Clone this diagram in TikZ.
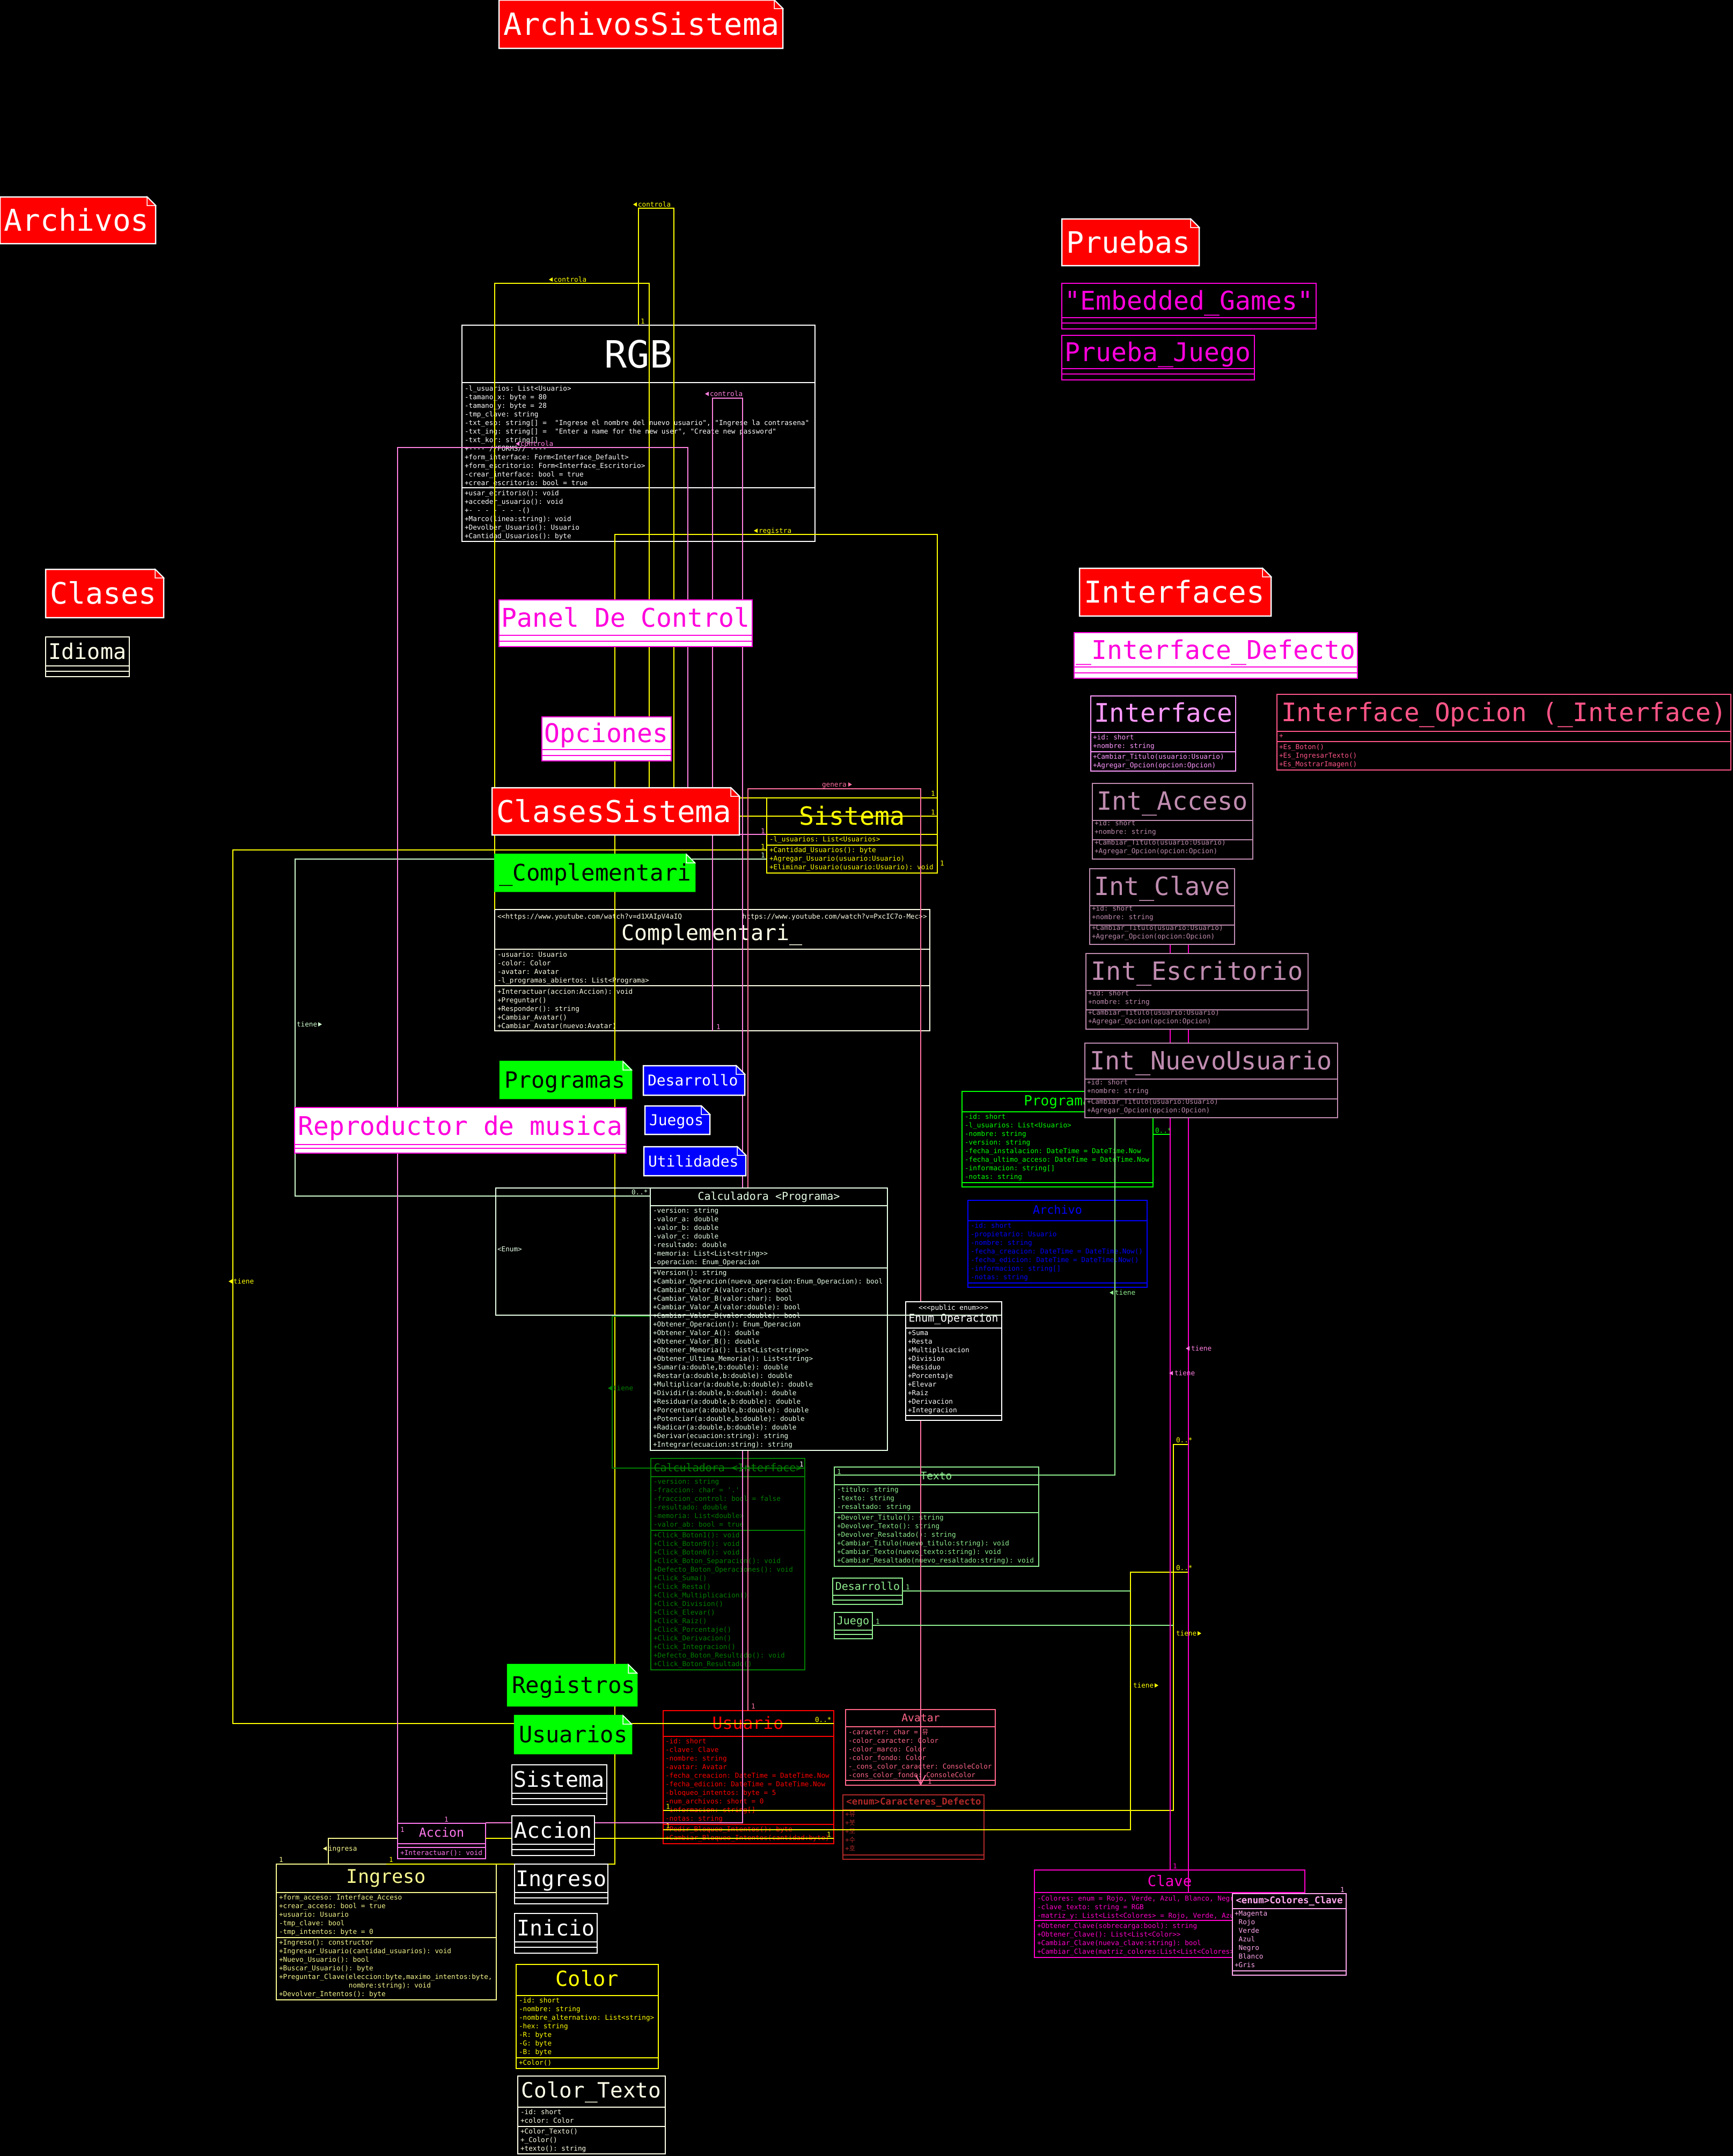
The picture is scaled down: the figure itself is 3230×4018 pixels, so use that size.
\documentclass[tikz,border=0pt]{standalone}
\usepackage{fontspec}
\setmonofont{DejaVu Sans Mono}
\newfontfamily\krfont{Noto Sans CJK KR}
\usetikzlibrary{arrows.meta}
\definecolor{cYel}{HTML}{FFFF00}
\definecolor{cCream}{HTML}{FFFFE8}
\definecolor{cHoney}{HTML}{E8FFE8}
\definecolor{cDkGreen}{HTML}{008000}
\definecolor{cLtGreen}{HTML}{90EE90}
\definecolor{cGreen}{HTML}{00FF00}
\definecolor{cBlue}{HTML}{0000FF}
\definecolor{cViolet}{HTML}{FF99FF}
\definecolor{cRose}{HTML}{FF5588}
\definecolor{cMauve}{HTML}{C08CB0}
\definecolor{cRed}{HTML}{FF0000}
\definecolor{cAvatar}{HTML}{FF6688}
\definecolor{cDkRed}{HTML}{B02828}
\definecolor{cLtYel}{HTML}{F8F890}
\definecolor{cAccion}{HTML}{FF77EE}
\definecolor{cMag}{HTML}{FF00CC}
\definecolor{cLtPink}{HTML}{FFA8EE}
\definecolor{cMagenta}{HTML}{FF00DD}
\definecolor{cConPink}{HTML}{FF80E0}
\definecolor{cGenera}{HTML}{FF70A0}
\definecolor{cConGreen}{HTML}{D0FFD0}
\tikzset{
  boxline/.style={line width=2.5pt},
  conline/.style={line width=2pt},
  txt/.style={anchor=base west, inner sep=0pt, outer sep=0pt},
  ctxt/.style={anchor=base, inner sep=0pt, outer sep=0pt},
}
\newcommand\sm{\ttfamily\fontsize{12.7}{16}\selectfont}
\newcommand\fsz[1]{\ttfamily\fontsize{#1}{#1}\selectfont}
\newcommand\ucls[7]{%
  \node[boxline, draw=#2, fill=black, inner sep=0pt, outer sep=0pt, anchor=north west,
        minimum width={(#5-#3)*1pt}, minimum height={(#6-#4)*1pt}] (#1) at (#3,#4) {};
  \foreach \s in {#7} {\draw[boxline, #2] (#3,\s) -- (#5,\s);}
}
\newcommand\uclsw[7]{%
  \node[boxline, draw=#2, fill=white, inner sep=0pt, outer sep=0pt, anchor=north west,
        minimum width={(#5-#3)*1pt}, minimum height={(#6-#4)*1pt}] (#1) at (#3,#4) {};
  \foreach \s in {#7} {\draw[boxline, #2] (#3,\s) -- (#5,\s);}
}
\newcommand\tl[5]{%
  \foreach \mytext [count=\cnt from 0] in {#5} {\node[txt, text=#4, font=\sm] (#1\cnt) at (#2,{#3+16*\cnt}) {\mytext};}
}
\newcommand\unote[9]{%
  \node[inner sep=0pt, outer sep=0pt, anchor=north west, minimum width={(#6-#4)*1pt}, minimum height={(#7-#5)*1pt}] (#1) at (#4,#5) {};
  \filldraw[fill=#2, draw=#3, boxline] (#4,#5) -- (#6-16,#5) -- (#6,#5+16) -- (#6,#7) -- (#4,#7) -- cycle;
  \filldraw[fill=#2, draw=white, line width=1.5pt] (#6-16,#5) -- (#6-16,#5+16) -- (#6,#5+16) -- cycle;
  \node[txt, font=\fsz{#8}, text=white] (#1T) at (#4+8, {(#5+#7)/2+0.36*#8}) {#9};
}
\newcommand\tril[3]{\fill[#3] (#1,#2-4) -- (#1+7,#2-8) -- (#1+7,#2) -- cycle;}
\newcommand\trir[3]{\fill[#3] (#1+7,#2-4) -- (#1,#2-8) -- (#1,#2) -- cycle;}
\newcommand\lab[5]{\node[txt, text=#4, font=\sm] (#1) at (#2,#3) {#5};}
\begin{document}
\catcode`\_=12
\begin{tikzpicture}[x=1pt,y=-1pt]
\fill[black] (0,0) rectangle (3230,4018);
\useasboundingbox (0,0) rectangle (3230,4018);

% ================= UNDER BOXES =================
\ucls{rgb}{white}{861}{606}{1519}{1009}{713,909}
\node[ctxt, text=white, font=\fsz{70}] (rgbT) at (1190,685) {RGB};
\tl{rgbA}{866}{728}{white}{{-l_usuarios: List<Usuario>},{-tamano_x: byte = 80},{-tamano_y: byte = 28},{-tmp_clave: string},{-txt_esp: string[] =~ "Ingrese el nombre del nuevo usuario", "Ingrese la contrasena"},{-txt_ing: string[] =~ "Enter a name for the new user", "Create new password"},{-txt_kor: string[]},{+---- //FORMS// ----},{+form_interface: Form<Interface_Default>},{+form_escritorio: Form<Interface_Escritorio>},{-crear_interface: bool = true},{+crear_escritorio: bool = true}}
\tl{rgbM}{866}{923}{white}{{+usar_ecritorio(): void},{+acceder_usuario(): void},{+- - - - - - -()},{+Marco(linea:string): void},{+Devolber_Usuario(): Usuario},{+Cantidad_Usuarios(): byte}}

\ucls{sis}{cYel}{1429}{1487}{1747}{1627}{1555,1575}
\node[ctxt, text=cYel, font=\fsz{46.7}] (sisT) at (1588,1537) {Sistema};
\tl{sisA}{1434}{1568}{cYel}{{-l_usuarios: List<Usuarios>}}
\tl{sisM}{1434}{1588}{cYel}{{+Cantidad_Usuarios(): byte},{+Agregar_Usuario(usuario:Usuario)},{+Eliminar_Usuario(usuario:Usuario): void}}

\ucls{comp}{cCream}{922}{1695}{1733}{1921}{1769,1837}
\node[txt, text=cCream, font=\sm] (compS1) at (927,1712) {<<https://www.youtube.com/watch?v=d1XAIpV4aIQ};
\node[anchor=base east, inner sep=0pt, text=cCream, font=\sm] (compS2) at (1728,1712) {https://www.youtube.com/watch?v=PxcIC7o-Mec>>};
\node[ctxt, text=cCream, font=\fsz{40}] (compT) at (1327,1752) {Complementari_};
\tl{compA}{927}{1783}{cCream}{{-usuario: Usuario},{-color: Color},{-avatar: Avatar},{-l_programas_abiertos: List<Programa>}}
\tl{compM}{927}{1852}{cCream}{{+Interactuar(accion:Accion): void},{+Preguntar()},{+Responder(): string},{+Cambiar_Avatar()},{+Cambiar_Avatar(nuevo:Avatar)}}

\ucls{calci}{cDkGreen}{1213}{2718}{1500}{3112}{2752,2852}
\node[ctxt, text=cDkGreen, font=\fsz{20}] (calciT) at (1357,2742) {Calculadora <Interface>};
\tl{calciA}{1218}{2765}{cDkGreen}{{-version: string},{-fraccion: char = '.'},{-fraccion_control: bool = false},{-resultado: double},{-memoria: List<double>},{-valor_ab: bool = true}}
\tl{calciM}{1218}{2865}{cDkGreen}{{+Click_Boton1(): void},{+Click_Boton9(): void},{+Click_Boton0(): void},{+Click_Boton_Separacion(): void},{+Defecto_Boton_Operaciones(): void},{+Click_Suma()},{+Click_Resta()},{+Click_Multiplicacion()},{+Click_Division()},{+Click_Elevar()},{+Click_Raiz()},{+Click_Porcentaje()},{+Click_Derivacion()},{+Click_Integracion()},{+Defecto_Boton_Resultado(): void},{+Click_Boton_Resultado()}}

\ucls{texto}{cLtGreen}{1555}{2734}{1936}{2919}{2767,2819}
\node[ctxt, text=cLtGreen, font=\fsz{19.5}] (textoT) at (1745,2757) {Texto};
\tl{textoA}{1560}{2780}{cLtGreen}{{-titulo: string},{-texto: string},{-resaltado: string}}
\tl{textoM}{1560}{2832}{cLtGreen}{{+Devolver_Titulo(): string},{+Devolver_Texto(): string},{+Devolver_Resaltado(): string},{+Cambiar_Titulo(nuevo_titulo:string): void},{+Cambiar_Texto(nuevo_texto:string): void},{+Cambiar_Resaltado(nuevo_resaltado:string): void}}

\ucls{desc}{cLtGreen}{1552}{2941}{1682}{2990}{2973,2982}
\node[ctxt, text=cLtGreen, font=\fsz{20}] (descT) at (1617,2963) {Desarrollo};
\ucls{juego}{cLtGreen}{1555}{3005}{1626}{3054}{3038,3046}
\node[ctxt, text=cLtGreen, font=\fsz{20}] (juegoT) at (1590,3027) {Juego};

\ucls{prog}{cGreen}{1793}{2034}{2149}{2212}{2072,2204}
\node[ctxt, text=cGreen, font=\fsz{26}] (progT) at (1971,2060) {Programa};
\tl{progA}{1798}{2085}{cGreen}{{-id: short},{-l_usuarios: List<Usuario>},{-nombre: string},{-version: string},{-fecha_instalacion: DateTime = DateTime.Now},{-fecha_ultimo_acceso: DateTime = DateTime.Now},{-informacion: string[]},{-notas: string}}

\ucls{arch}{cBlue}{1804}{2237}{2138}{2399}{2275,2391}
\node[ctxt, text=cBlue, font=\fsz{21.8}] (archT) at (1971,2262) {Archivo};
\tl{archA}{1809}{2288}{cBlue}{{-id: short},{-propietario: Usuario},{-nombre: string},{-fecha_creacion: DateTime = DateTime.Now()},{-fecha_edicion: DateTime = DateTime.Now()},{-informacion: string[]},{-notas: string}}

\ucls{usu}{cRed}{1236}{3188}{1554}{3436}{3236,3400}
\node[ctxt, text=cRed, font=\fsz{31.5}] (usuT) at (1394,3222) {Usuario};
\tl{usuA}{1240}{3249}{cRed}{{-id: short},{-clave: Clave},{-nombre: string},{-avatar: Avatar},{-fecha_creacion: DateTime = DateTime.Now},{-fecha_edicion: DateTime = DateTime.Now},{-bloqueo_intentos: byte = 5},{-num_archivos: short = 0},{-informacion: string[]},{-notas: string}}
\tl{usuM}{1240}{3413}{cRed}{{+Pedir_Bloqueo_Intentos(): byte},{+Cambiar_Bloqueo_Intentos(cantidad:byte)}}

\ucls{ava}{cAvatar}{1576}{3186}{1855}{3327}{3218,3318}
\node[ctxt, text=cAvatar, font=\fsz{19.8}] (avaT) at (1716,3208) {Avatar};
\tl{avaA}{1581}{3232}{cAvatar}{{-caracter: char = {\krfont 뮤}},{-color_caracter: Color},{-color_marco: Color},{-color_fondo: Color},{-_cons_color_caracter: ConsoleColor},{-cons_color_fondo: ConsoleColor}}

\ucls{car}{cDkRed}{1571}{3345}{1834}{3465}{3373,3457}
\node[ctxt, text=cDkRed, font=\fsz{17.4}\bfseries] (carT) at (1703,3363) {<enum>Caracteres_Defecto};
\tl{carA}{1575}{3385}{cDkRed}{{+{\krfont 뮤}},{+{\krfont 봇}},{+{\krfont 모}},{+{\krfont 수}},{+{\krfont 호}}}

\ucls{clave}{cMag}{1928}{3485}{2432}{3648}{3527,3579}
\node[ctxt, text=cMag, font=\fsz{27.4}] (claveT) at (2180,3515) {Clave};
\tl{claveA}{1933}{3542}{cMag}{{-Colores: enum = Rojo, Verde, Azul, Blanco, Negro},{-clave_texto: string = RGB},{-matriz_y: List<List<Colores> = Rojo, Verde, Azul, Blanco}}
\tl{claveM}{1933}{3593}{cMag}{{+Obtener_Clave(sobrecarga:bool): string},{+Obtener_Clave(): List<List<Color>>},{+Cambiar_Clave(nueva_clave:string): bool},{+Cambiar_Clave(matriz_colores:List<List<Colores>>): void}}

\ucls{ing}{cLtYel}{515}{3474}{925}{3727}{3527,3611}
\node[ctxt, text=cLtYel, font=\fsz{35.2}] (ingT) at (720,3509) {Ingreso};
\tl{ingA}{520}{3540}{cLtYel}{{+form_acceso: Interface_Acceso},{+crear_acceso: bool = true},{+usuario: Usuario},{-tmp_clave: bool},{-tmp_intentos: byte = 0}}
\tl{ingM}{520}{3624}{cLtYel}{{+Ingreso(): constructor},{+Ingresar_Usuario(cantidad_usuarios): void},{+Nuevo_Usuario(): bool},{+Buscar_Usuario(): byte},{+Preguntar_Clave(eleccion:byte,maximo_intentos:byte,},{\phantom{+Preguntar_Clave(}nombre:string): void},{+Devolver_Intentos(): byte}}

\ucls{acc}{cAccion}{741}{3398}{905}{3464}{3436,3443}
\node[ctxt, text=cAccion, font=\fsz{23.3}] (accT) at (823,3423) {Accion};
\tl{accM}{746}{3457}{cAccion}{{+Interactuar(): void}}

\ucls{color}{cYel}{962}{3661}{1227}{3855}{3719,3835}
\node[ctxt, text=cYel, font=\fsz{38.8}] (colorT) at (1094,3701) {Color};
\tl{colorA}{967}{3732}{cYel}{{-id: short},{-nombre: string},{-nombre_alternativo: List<string>},{-hex: string},{-R: byte},{-G: byte},{-B: byte}}
\tl{colorM}{967}{3848}{cYel}{{+Color()}}

\ucls{ctex}{cCream}{965}{3869}{1240}{4014}{3927,3963}
\node[ctxt, text=cCream, font=\fsz{39.3}] (ctexT) at (1102,3909) {Color_Texto};
\tl{ctexA}{970}{3940}{cCream}{{-id: short},{+color: Color}}
\tl{ctexM}{970}{3976}{cCream}{{+Color_Texto()},{+_Color()},{+texto(): string}}

% ================= CONNECTORS =================
\draw[conline,cYel] (1190,606) -- (1190,388) -- (1256,388) -- (1256,1487) -- (1747,1487);
\draw[conline,cYel] (922,1695) -- (922,528) -- (1210,528) -- (1210,1521) -- (1747,1521);
\draw[conline,cYel] (720,3474) -- (1146,3474) -- (1146,996) -- (1747,996) -- (1747,1487);
\draw[conline,cYel] (1429,1584) -- (434,1584) -- (434,3212) -- (1554,3212);
\draw[conline,cLtYel] (612,3474) -- (612,3426) -- (741,3426);
\draw[conline,cYel] (905,3426) -- (1554,3426);
\draw[conline,cYel] (1236,3374) -- (2187,3374) -- (2187,2692) -- (2215,2692);
\draw[conline,cYel] (1236,3410) -- (2107,3410) -- (2107,2930) -- (2215,2930);
\lab{n27}{2192}{2688}{cYel}{0..*}
\lab{n28}{2192}{2926}{cYel}{0..*}
\lab{lt5}{2192}{3048}{cYel}{tiene}\trir{2232}{3048}{cYel}
\lab{lt6}{2112}{3145}{cYel}{tiene}\trir{2152}{3145}{cYel}
\tril{1180}{385}{cYel}\lab{lc1}{1189}{385}{cYel}{controla}
\tril{1023}{525}{cYel}\lab{lc2}{1032}{525}{cYel}{controla}
\tril{1405}{993}{cYel}\lab{lr1}{1414}{993}{cYel}{registra}
\tril{426}{2392}{cYel}\lab{lt1}{435}{2392}{cYel}{tiene}
\lab{n1}{1194}{603}{cYel}{1}
\lab{n2}{1735}{1483}{cYel}{1}
\lab{n3}{1735}{1518}{cYel}{1}
\lab{n4}{1418}{1582}{cYel}{1}
\lab{n5}{1752}{1613}{cYel}{1}
\lab{n6}{1519}{3209}{cYel}{0..*}
\lab{n7}{725}{3470}{cYel}{1}
\lab{n8}{520}{3470}{cLtYel}{1}
\lab{n9}{1241}{3371}{cYel}{1}
\lab{n10}{1241}{3407}{cYel}{1}
\lab{n11}{1541}{3423}{cYel}{1}
\tril{602}{3449}{cLtYel}\lab{li1}{612}{3449}{cLtYel}{ingresa}
\draw[conline,cConGreen] (1429,1601) -- (550,1601) -- (550,2229) -- (1212,2229);
\lab{n12}{1418}{1598}{cConGreen}{1}
\lab{n13}{1177}{2226}{cConGreen}{0..*}
\lab{lt2}{553}{1913}{cConGreen}{tiene}\trir{593}{1913}{cConGreen}
\draw[conline,cConPink] (1429,1555) -- (1282,1555) -- (1282,834) -- (741,834) -- (741,3398);
\draw[conline,cConPink] (1328,1921) -- (1328,742) -- (1384,742) -- (1384,3397) -- (905,3397);
\tril{1314}{738}{cConPink}\lab{lc3}{1323}{738}{cConPink}{controla}
\tril{961}{831}{cConPink}\lab{lc4}{970}{831}{cConPink}{controla}
\lab{n14}{1418}{1553}{cConPink}{1}
\lab{n15}{1335}{1918}{cConPink}{1}
\lab{n16}{828}{3395}{cConPink}{1}
\lab{n17}{746}{3414}{cConPink}{1}
\draw[conline,cGenera] (1394,3188) -- (1394,1470) -- (1716,1470) -- (1716,3327);
\draw[conline,cGenera] (1707,3308) -- (1716,3326) -- (1725,3308);
\lab{lg1}{1532}{1466}{cGenera}{genera}\trir{1581}{1466}{cGenera}
\lab{n18}{1400}{3184}{cGenera}{1}
\lab{n19}{1729}{3324}{cGenera}{1}
\draw[conline,cDkGreen] (1212,2453) -- (1141,2453) -- (1141,2736) -- (1500,2736);
\tril{1133}{2591}{cDkGreen}\lab{lt3}{1142}{2591}{cDkGreen}{tiene}
\lab{n20}{1490}{2733}{white}{1}
\draw[conline,cLtGreen] (1555,2749) -- (2078,2749) -- (2078,2083);
\tril{2068}{2413}{cLtGreen}\lab{lt4}{2078}{2413}{cLtGreen}{tiene}
\lab{n21}{1560}{2747}{cLtGreen}{1}
\draw[conline,cLtGreen] (1682,2965) -- (2107,2965);
\draw[conline,cLtGreen] (1626,3029) -- (2187,3029);
\lab{n22}{1688}{2962}{cLtGreen}{1}
\lab{n23}{1632}{3026}{cLtGreen}{1}
\draw[conline,cGreen] (2149,2114) -- (2181,2114);
\lab{n24}{2153}{2111}{cGreen}{0..*}
\draw[conline,cMag] (2181,1760) -- (2181,3485);
\draw[conline,cMag] (2215,1760) -- (2215,3527);
\tril{2210}{2517}{cConPink}\lab{lt7}{2220}{2517}{cConPink}{tiene}
\tril{2179}{2563}{cConPink}\lab{lt8}{2189}{2563}{cConPink}{tiene}
\lab{n25}{2186}{3482}{cMag}{1}
\lab{n26}{2498}{3526}{cLtPink}{1}

% ================= OVER BOXES =================
\ucls{calcp}{cHoney}{1212}{2214}{1654}{2703}{2247,2363}
\node[ctxt, text=cHoney, font=\fsz{20}] (calcpT) at (1433,2236) {Calculadora <Programa>};
\tl{calcpA}{1217}{2260}{cHoney}{{-version: string},{-valor_a: double},{-valor_b: double},{-valor_c: double},{-resultado: double},{-memoria: List<List<string>>},{-operacion: Enum_Operacion}}
\tl{calcpM}{1217}{2376}{cHoney}{{+Version(): string},{+Cambiar_Operacion(nueva_operacion:Enum_Operacion): bool},{+Cambiar_Valor_A(valor:char): bool},{+Cambiar_Valor_B(valor:char): bool},{+Cambiar_Valor_A(valor:double): bool},{+Cambiar_Valor_B(valor:double): bool},{+Obtener_Operacion(): Enum_Operacion},{+Obtener_Valor_A(): double},{+Obtener_Valor_B(): double},{+Obtener_Memoria(): List<List<string>>},{+Obtener_Ultima_Memoria(): List<string>},{+Sumar(a:double,b:double): double},{+Restar(a:double,b:double): double},{+Multiplicar(a:double,b:double): double},{+Dividir(a:double,b:double): double},{+Residuar(a:double,b:double): double},{+Porcentuar(a:double,b:double): double},{+Potenciar(a:double,b:double): double},{+Radicar(a:double,b:double): double},{+Derivar(ecuacion:string): string},{+Integrar(ecuacion:string): string}}
\ucls{enumop}{white}{1688}{2426}{1867}{2647}{2475,2638}
\node[ctxt, text=white, font=\sm] (enumopS) at (1777,2441) {<<<public enum>>>};
\node[ctxt, text=white, font=\fsz{19.8}] (enumopT) at (1777,2463) {Enum_Operacion};
\tl{enumopA}{1692}{2488}{white}{{+Suma},{+Resta},{+Multiplicacion},{+Division},{+Residuo},{+Porcentaje},{+Elevar},{+Raiz},{+Derivacion},{+Integracion}}
\draw[conline,cHoney] (1212,2214) -- (924,2214) -- (924,2451) -- (1867,2451);
\lab{enumL}{927}{2332}{cHoney}{<Enum>}

\ucls{iface}{cViolet}{2033}{1297}{2303}{1437}{1365,1401}
\node[ctxt, text=cViolet, font=\fsz{47.6}] (ifaceT) at (2168,1345) {Interface};
\tl{ifaceA}{2037}{1378}{cViolet}{{+id: short},{+nombre: string}}
\tl{ifaceM}{2037}{1414}{cViolet}{{+Cambiar_Titulo(usuario:Usuario)},{+Agregar_Opcion(opcion:Opcion)}}
\ucls{iopc}{cRose}{2380}{1294}{3226}{1435}{1363,1382}
\node[ctxt, text=cRose, font=\fsz{47.5}] (iopcT) at (2803,1344) {Interface_Opcion (_Interface)};
\tl{iopcA}{2384}{1375}{cRose}{{+}}
\tl{iopcM}{2384}{1396}{cRose}{{+Es_Boton()},{+Es_IngresarTexto()},{+Es_MostrarImagen()}}
\ucls{iacc}{cMauve}{2036}{1460}{2335}{1601}{1529,1565}
\node[ctxt, text=cMauve, font=\fsz{46.8}] (iaccT) at (2185,1509) {Int_Acceso};
\tl{iaccA}{2040}{1538}{cMauve}{{+id: short},{+nombre: string}}
\tl{iaccM}{2040}{1574}{cMauve}{{+Cambiar_Titulo(usuario:Usuario)},{+Agregar_Opcion(opcion:Opcion)}}
\ucls{icla}{cMauve}{2031}{1619}{2301}{1760}{1688,1724}
\node[ctxt, text=cMauve, font=\fsz{46.8}] (iclaT) at (2166,1668) {Int_Clave};
\tl{iclaA}{2035}{1697}{cMauve}{{+id: short},{+nombre: string}}
\tl{iclaM}{2035}{1733}{cMauve}{{+Cambiar_Titulo(usuario:Usuario)},{+Agregar_Opcion(opcion:Opcion)}}
\ucls{iesc}{cMauve}{2024}{1777}{2438}{1918}{1846,1882}
\node[ctxt, text=cMauve, font=\fsz{46.8}] (iescT) at (2231,1826) {Int_Escritorio};
\tl{iescA}{2028}{1855}{cMauve}{{+id: short},{+nombre: string}}
\tl{iescM}{2028}{1891}{cMauve}{{+Cambiar_Titulo(usuario:Usuario)},{+Agregar_Opcion(opcion:Opcion)}}
\ucls{inue}{cMauve}{2022}{1944}{2493}{2083}{2011,2048}
\node[ctxt, text=cMauve, font=\fsz{46.8}] (inueT) at (2257,1993) {Int_NuevoUsuario};
\tl{inueA}{2026}{2021}{cMauve}{{+id: short},{+nombre: string}}
\tl{inueM}{2026}{2057}{cMauve}{{+Cambiar_Titulo(usuario:Usuario)},{+Agregar_Opcion(opcion:Opcion)}}

\ucls{ccl}{cLtPink}{2297}{3529}{2509}{3681}{3557,3673}
\node[ctxt, text=cLtPink, font=\fsz{17.4}\bfseries] (cclT) at (2403,3547) {<enum>Colores_Clave};
\tl{cclA}{2301}{3570}{cLtPink}{{+Magenta},{~Rojo},{~Verde},{~Azul},{~Negro},{~Blanco},{+Gris}}

\uclsw{idef}{cMagenta}{2002}{1179}{2530}{1264}{1243,1254}
\node[ctxt, text=cMagenta, font=\fsz{48}] (idefT) at (2266,1228) {_Interface_Defecto};
\uclsw{panel}{cMagenta}{930}{1118}{1402}{1205}{1184,1195}
\node[ctxt, text=cMagenta, font=\fsz{48}] (panelT) at (1166,1168) {Panel De Control};
\uclsw{opc}{cMagenta}{1010}{1336}{1251}{1418}{1397,1408}
\node[ctxt, text=cMagenta, font=\fsz{48}] (opcT) at (1130,1383) {Opciones};
\uclsw{repro}{cMagenta}{549}{2064}{1167}{2149}{2133,2140}
\node[ctxt, text=cMagenta, font=\fsz{47.8}] (reproT) at (858,2115) {Reproductor de musica};
\ucls{emb}{cMagenta}{1979}{528}{2453}{613}{592,602}
\node[ctxt, text=cMagenta, font=\fsz{48}] (embT) at (2216,577) {"Embedded_Games"};
\ucls{prj}{cMagenta}{1979}{625}{2338}{708}{687,697}
\node[ctxt, text=cMagenta, font=\fsz{48}] (prjT) at (2158,673) {Prueba_Juego};
\ucls{idioma}{cCream}{85}{1187}{241}{1261}{1241,1251}
\node[ctxt, text=cCream, font=\fsz{40}] (idiomaT) at (163,1228) {Idioma};
\ucls{bsis}{white}{954}{3289}{1131}{3363}{3342,3352}
\node[ctxt, text=white, font=\fsz{40}] (bsisT) at (1042,3330) {Sistema};
\ucls{bacc}{white}{954}{3384}{1108}{3458}{3437,3447}
\node[ctxt, text=white, font=\fsz{40}] (baccT) at (1031,3425) {Accion};
\ucls{bing}{white}{959}{3474}{1133}{3548}{3527,3537}
\node[ctxt, text=white, font=\fsz{40}] (bingT) at (1046,3515) {Ingreso};
\ucls{bini}{white}{959}{3566}{1113}{3640}{3619,3629}
\node[ctxt, text=white, font=\fsz{40}] (biniT) at (1036,3607) {Inicio};

\unote{nArchSis}{cRed}{white}{930}{0}{1459}{90}{57}{ArchivosSistema}
\unote{nArch}{cRed}{white}{0}{367}{290}{454}{56}{Archivos}
\unote{nPru}{cRed}{white}{1979}{408}{2235}{495}{55}{Pruebas}
\unote{nCla}{cRed}{white}{85}{1061}{305}{1151}{55}{Clases}
\unote{nInt}{cRed}{white}{2012}{1059}{2369}{1148}{56}{Interfaces}
\unote{nCS}{cRed}{white}{917}{1468}{1378}{1556}{56}{ClasesSistema}
\unote{nComp}{cGreen}{cGreen}{922}{1592}{1295}{1661}{42.5}{\color{black}_Complementari}
\unote{nProg}{cGreen}{cGreen}{932}{1978}{1177}{2047}{41.6}{\color{black}Programas}
\unote{nDes}{cBlue}{white}{1199}{1986}{1388}{2041}{28}{Desarrollo}
\unote{nJue}{cBlue}{white}{1202}{2061}{1323}{2114}{28}{Juegos}
\unote{nUti}{cBlue}{white}{1200}{2137}{1390}{2191}{28}{Utilidades}
\unote{nReg}{cGreen}{cGreen}{946}{3102}{1187}{3179}{42.5}{\color{black}Registros}
\unote{nUsu}{cGreen}{cGreen}{959}{3197}{1177}{3268}{42}{\color{black}Usuarios}
\end{tikzpicture}
\end{document}
